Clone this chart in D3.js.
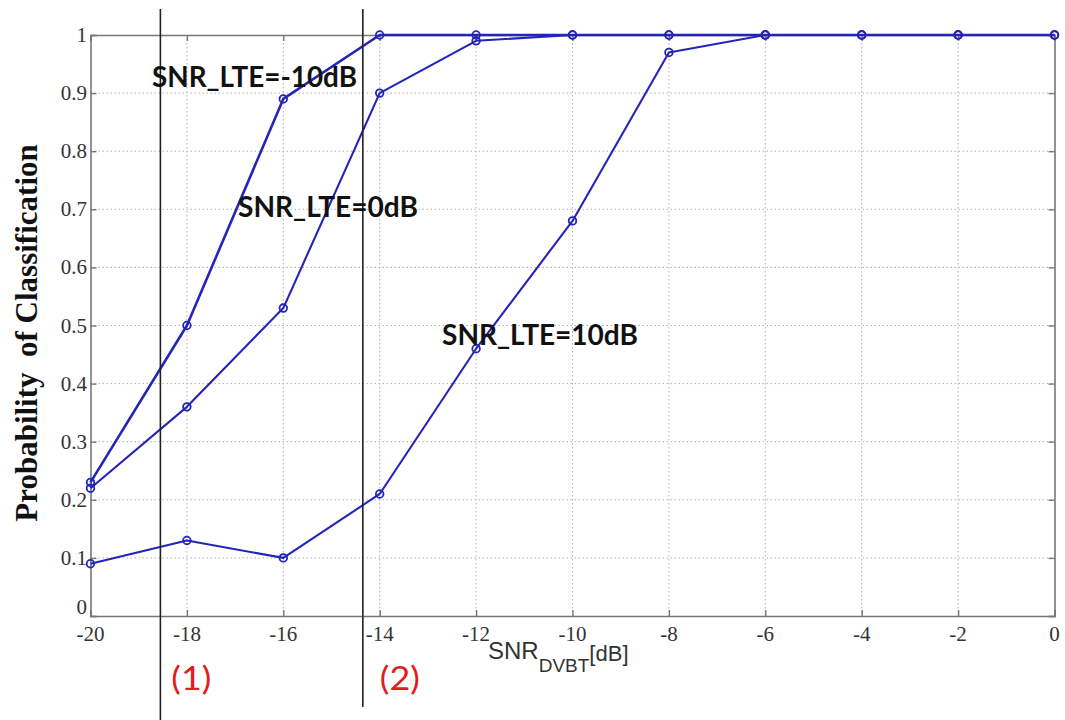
<!DOCTYPE html>
<html>
<head>
<meta charset="utf-8">
<script src="https://cdn.jsdelivr.net/npm/d3@7"></script>
<style>
  html, body { margin: 0; padding: 0; background: #fff; }
  svg { display: block; }
</style>
</head>
<body>
<svg id="chart" width="1065" height="720"></svg>
<script>
// ---- data ----
const snrDvbt = [-20, -18, -16, -14, -12, -10, -8, -6, -4, -2, 0];
const lteMinus10 = [0.23, 0.50, 0.89, 1.00, 1.00, 1.00, 1.00, 1.00, 1.00, 1.00, 1.00];
const lte0       = [0.22, 0.36, 0.53, 0.90, 0.99, 1.00, 1.00, 1.00, 1.00, 1.00, 1.00];
const lte10      = [0.09, 0.13, 0.10, 0.21, 0.46, 0.68, 0.97, 1.00, 1.00, 1.00, 1.00];
const seriesNames = ["SNR_LTE=-10dB", "SNR_LTE=0dB", "SNR_LTE=10dB"];
const xTicks = [-20, -18, -16, -14, -12, -10, -8, -6, -4, -2, 0];
const xTickLabels = ["-20", "-18", "-16", "-14", "-12", "-10", "-8", "-6", "-4", "-2", "0"];
const yTicks = [0, 0.1, 0.2, 0.3, 0.4, 0.5, 0.6, 0.7, 0.8, 0.9, 1];
const yTickLabels = ["0", "0.1", "0.2", "0.3", "0.4", "0.5", "0.6", "0.7", "0.8", "0.9", "1"];
const regionMarks = [-18.55, -14.35];
const regionLabels = ["(1)", "(2)"];

// ---- layout ----
const svg = d3.select("#chart");
const L = 90.5, R = 1054.5, T = 35, B = 616;
const x = d3.scaleLinear().domain([-20, 0]).range([L, R]);
const y = d3.scaleLinear().domain([0, 1]).range([B, T]);

const gridColor = "#b0b0b0";
const frameColor = "#777";
const lineColor = "#2424b8";
const serif = "'Liberation Serif', 'Times New Roman', Times, serif";

// grid
const grid = svg.append("g");
grid.selectAll("line.gx").data(xTicks.slice(1, -1)).enter().append("line")
  .attr("x1", d => x(d)).attr("x2", d => x(d)).attr("y1", T).attr("y2", B)
  .attr("stroke", gridColor).attr("stroke-width", 1).attr("stroke-dasharray", "1.5,2.5");
grid.selectAll("line.gy").data(yTicks.slice(1, -1)).enter().append("line")
  .attr("y1", d => y(d)).attr("y2", d => y(d)).attr("x1", L).attr("x2", R)
  .attr("stroke", gridColor).attr("stroke-width", 1).attr("stroke-dasharray", "1.5,2.5");

// frame axes with inward ticks (labels drawn separately)
const axB = svg.append("g").attr("transform", `translate(0,${B})`)
  .call(d3.axisBottom(x).tickValues(xTicks).tickSize(-6).tickFormat(""));
const axT = svg.append("g").attr("transform", `translate(0,${T})`)
  .call(d3.axisTop(x).tickValues(xTicks).tickSize(-6).tickFormat(""));
const axL = svg.append("g").attr("transform", `translate(${L},0)`)
  .call(d3.axisLeft(y).tickValues(yTicks).tickSize(-6).tickFormat(""));
const axR = svg.append("g").attr("transform", `translate(${R},0)`)
  .call(d3.axisRight(y).tickValues(yTicks).tickSize(-6).tickFormat(""));
[axB, axT, axL, axR].forEach(a => {
  a.select(".domain").attr("stroke", frameColor).attr("stroke-width", 1.6);
  a.selectAll(".tick line").attr("stroke", frameColor).attr("stroke-width", 1.4);
});

// tick labels
svg.append("g").selectAll("text").data(xTicks).enter().append("text")
  .attr("x", d => x(d)).attr("y", 641)
  .attr("text-anchor", "middle")
  .attr("font-family", serif).attr("font-size", 21).attr("fill", "#333")
  .text((d, i) => xTickLabels[i]);
svg.append("g").selectAll("text").data(yTicks).enter().append("text")
  .attr("x", 87).attr("y", d => y(d) + (d === 0 ? -2 : 7))
  .attr("text-anchor", "end")
  .attr("font-family", serif).attr("font-size", 21).attr("fill", "#333")
  .text((d, i) => yTickLabels[i]);

// series
const allSeries = [lteMinus10, lte0, lte10];
const lineGen = d3.line().x((d, i) => x(snrDvbt[i])).y(d => y(d));
const sg = svg.append("g");
allSeries.forEach((vals, k) => {
  sg.append("path").datum(vals).attr("d", lineGen)
    .attr("fill", "none").attr("stroke", lineColor)
    .attr("stroke-width", k === 0 ? 2.6 : 2.1).attr("stroke-linejoin", "round");
  sg.selectAll(null).data(vals).enter().append("circle")
    .attr("cx", (d, i) => x(snrDvbt[i])).attr("cy", d => y(d)).attr("r", 3.8)
    .attr("fill", "none").attr("stroke", lineColor).attr("stroke-width", 1.8);
});

// region vertical lines
svg.selectAll("line.reg").data(regionMarks).enter().append("line")
  .attr("x1", d => x(d)).attr("x2", d => x(d))
  .attr("y1", 9).attr("y2", (d, i) => i === 0 ? 720 : 707)
  .attr("stroke", "#222").attr("stroke-width", 1.6);

// region labels
svg.selectAll("text.reg").data(regionLabels).enter().append("text")
  .attr("x", (d, i) => x(regionMarks[i]) + (i === 0 ? 11 : 17))
  .attr("y", 690)
  .attr("textLength", 40).attr("lengthAdjust", "spacingAndGlyphs")
  .style("font-family", "Lato, 'Open Sans', sans-serif").style("font-size", "33px")
  .attr("fill", "#e31b1b").text(d => d);

// series labels
const labelPos = [
  { x: 152, y: 87, w: 205 },
  { x: 238, y: 217, w: 180 },
  { x: 442, y: 345, w: 196 }
];
svg.selectAll("text.slab").data(seriesNames).enter().append("text")
  .attr("x", (d, i) => labelPos[i].x).attr("y", (d, i) => labelPos[i].y)
  .attr("textLength", (d, i) => labelPos[i].w).attr("lengthAdjust", "spacingAndGlyphs")
  .style("font-family", "Lato, 'Open Sans', sans-serif").style("font-weight", "bold")
  .style("font-size", "28px").attr("fill", "#111").text(d => d);

// y title
svg.append("text")
  .attr("transform", `translate(37,333) rotate(-90)`)
  .attr("text-anchor", "middle")
  .style("font-family", serif)
  .style("font-weight", "bold").style("font-size", "31px").attr("fill", "#111")
  .style("white-space", "pre")
  .text("Probability  of Classification");

// x title with subscript
const xt = svg.append("text").attr("x", 488).attr("y", 659)
  .style("font-family", "'Liberation Sans', Arial, sans-serif").attr("fill", "#333");
xt.append("tspan").style("font-size", "24px").text("SNR");
xt.append("tspan").style("font-size", "19px").attr("dy", 13).text("DVBT");
xt.append("tspan").style("font-size", "22px").attr("dy", -11).text("[dB]");
</script>
</body>
</html>
